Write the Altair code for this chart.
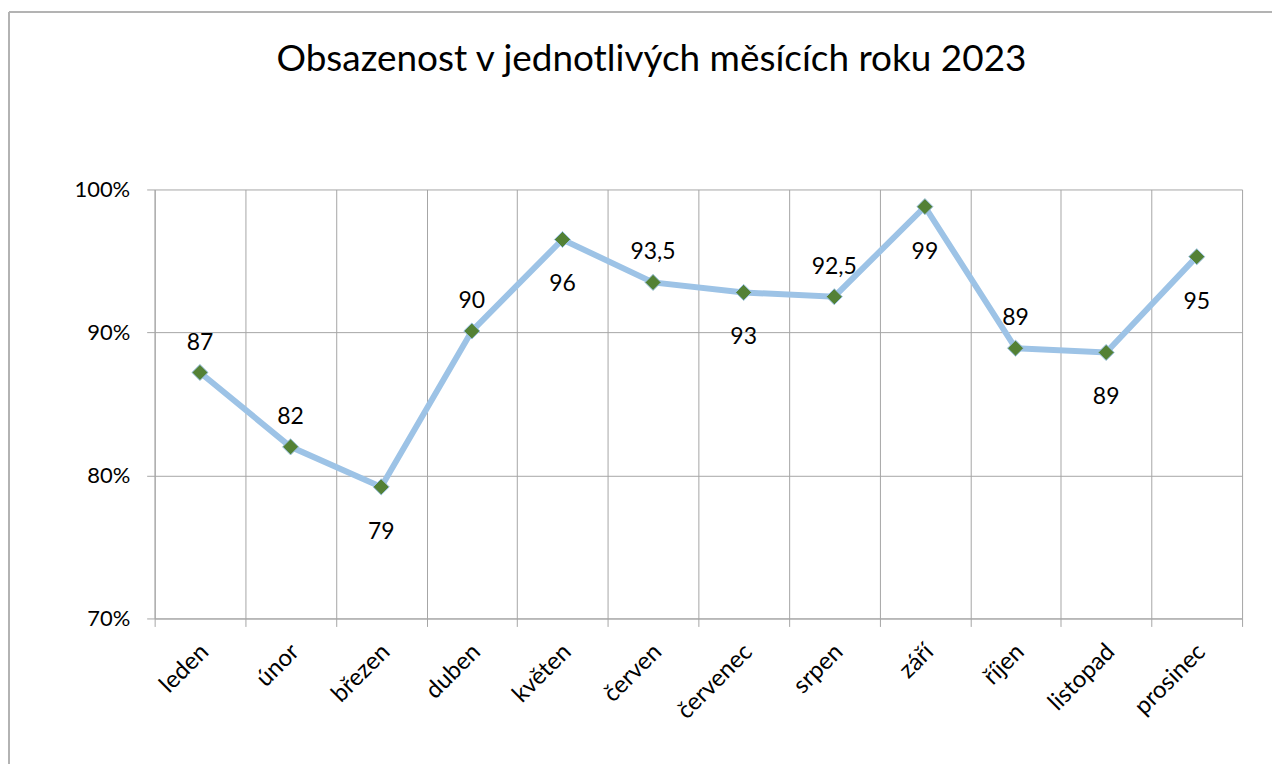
import altair as alt
import pandas as pd

months = ["leden", "únor", "březen", "duben", "květen", "červen",
          "červenec", "srpen", "září", "říjen", "listopad", "prosinec"]
occupancy = [0.872, 0.820, 0.792, 0.901, 0.965, 0.935,
             0.928, 0.925, 0.988, 0.889, 0.886, 0.953]
labels = ["87", "82", "79", "90", "96", "93,5", "93", "92,5", "99", "89", "89", "95"]
label_side = ["above", "above", "below", "above", "below", "above",
              "below", "above", "below", "above", "below", "below"]
y_ticks = [0.7, 0.8, 0.9, 1.0]
title_text = "Obsazenost v jednotlivých měsících roku 2023"

df = pd.DataFrame({"month": months, "value": occupancy, "label": labels, "side": label_side})

GRID = "#A6A6A6"
FONT = "Lato"

x = alt.X("month:N", sort=months, title=None,
          scale=alt.Scale(paddingInner=0, paddingOuter=0),
          axis=alt.Axis(labelAngle=-45, labelAlign="right", labelBaseline="top",
                        labelFontSize=24, labelFont=FONT, labelColor="black",
                        tickBand="extent", grid=True, gridColor=GRID, gridWidth=1,
                        tickColor=GRID, domainColor=GRID, tickSize=8, labelPadding=13,
                        labelOffset=-4))
y = alt.Y("value:Q", title=None, scale=alt.Scale(domain=[0.7, 1.0]),
          axis=alt.Axis(values=y_ticks, format=".0%", labelFontSize=22, labelFont=FONT,
                        labelColor="black", grid=True, gridColor=GRID, gridWidth=1,
                        tickColor=GRID, domainColor=GRID, tickSize=8, labelPadding=17))

base = alt.Chart(df)
line = base.mark_line(color="#9DC3E6", strokeWidth=6).encode(x=x, y=y)
pts = base.mark_point(shape="diamond", filled=True, size=260, color="#538135",
                      stroke="#9DC3E6", strokeWidth=1, opacity=1).encode(x=x, y=y)
above = base.transform_filter(alt.datum.side == "above").mark_text(
    font=FONT, fontSize=23, color="black", dy=-30, baseline="middle").encode(x=x, y=y, text="label:N")
below = base.transform_filter(alt.datum.side == "below").mark_text(
    font=FONT, fontSize=23, color="black", dy=45, baseline="middle").encode(x=x, y=y, text="label:N")

frame_data = alt.Data(values=[{"a": 1}])
frame_left = alt.Chart(frame_data).mark_rule(color="#B3B3B3", strokeWidth=2).encode(
    x=alt.value(-146), y=alt.value(-178), y2=alt.value(620))
frame_top = alt.Chart(frame_data).mark_rule(color="#B3B3B3", strokeWidth=2).encode(
    x=alt.value(-146), x2=alt.value(1150), y=alt.value(-178))

chart = alt.layer(frame_left, frame_top, line, pts, above, below).properties(
    width=1090, height=430,
    title=alt.TitleParams(title_text, font=FONT, fontSize=37, fontWeight="normal",
                          color="black", anchor="middle", frame="group", dx=-47,
                          offset=-97, baseline="alphabetic"),
    autosize=alt.AutoSizeParams(type="none"),
    padding={"left": 147, "top": 181, "right": 30, "bottom": 145},
).configure_view(stroke=None)

chart.save("out.html", embed_options={"renderer": "svg", "actions": False})
